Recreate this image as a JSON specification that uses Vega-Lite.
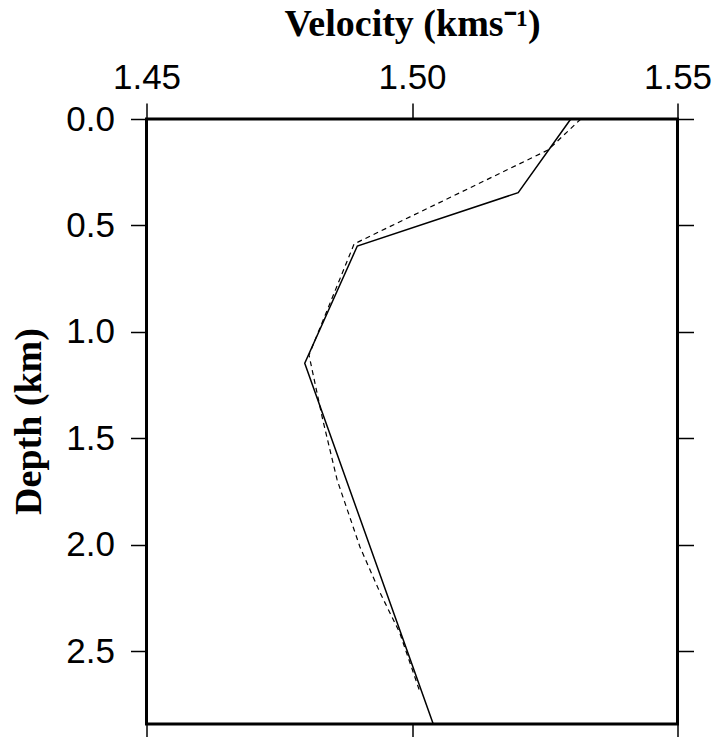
{
  "$schema": "https://vega.github.io/schema/vega-lite/v6.json",
  "autosize": "none",
  "width": 531,
  "height": 605,
  "padding": {"left": 146.5, "top": 119, "right": 40.5, "bottom": 13},
  "background": "white",
  "datasets": {
    "solid": [
      {"velocity": 1.5299, "depth": 0.0},
      {"velocity": 1.5200, "depth": 0.346},
      {"velocity": 1.4897, "depth": 0.597},
      {"velocity": 1.4798, "depth": 1.148},
      {"velocity": 1.5040, "depth": 2.843}
    ],
    "dashed": [
      {"velocity": 1.5318, "depth": 0.0},
      {"velocity": 1.5256, "depth": 0.146},
      {"velocity": 1.4891, "depth": 0.587},
      {"velocity": 1.4806, "depth": 1.109},
      {"velocity": 1.4832, "depth": 1.414},
      {"velocity": 1.4859, "depth": 1.696},
      {"velocity": 1.4902, "depth": 2.011},
      {"velocity": 1.4940, "depth": 2.227},
      {"velocity": 1.4977, "depth": 2.415},
      {"velocity": 1.5015, "depth": 2.693}
    ]
  },
  "layer": [
    {
      "data": {"name": "solid"},
      "mark": {"type": "line", "color": "black", "strokeWidth": 1.5},
      "encoding": {
        "x": {
          "field": "velocity", "type": "quantitative",
          "scale": {"domain": [1.45, 1.55], "nice": false, "zero": false},
          "axis": {
            "orient": "top", "values": [1.45, 1.5, 1.55], "format": ".2f",
            "title": "Velocity (kms⁻¹)",
            "titleFont": "Liberation Serif", "titleFontWeight": "bold", "titleFontSize": 38,
            "titleColor": "black", "titleBaseline": "alphabetic", "titleY": -84,
            "labelFont": "Liberation Sans", "labelFontSize": 35, "labelColor": "black",
            "labelPadding": 8, "labelFlush": false, "labelOverlap": false,
            "tickSize": 16, "tickWidth": 1.5, "tickColor": "black",
            "domain": false, "grid": false
          }
        },
        "y": {
          "field": "depth", "type": "quantitative",
          "scale": {"domain": [0, 2.843], "nice": false, "reverse": true},
          "axis": {
            "orient": "left", "values": [0, 0.5, 1.0, 1.5, 2.0, 2.5], "format": ".1f",
            "title": "Depth (km)",
            "titleFont": "Liberation Serif", "titleFontWeight": "bold", "titleFontSize": 38,
            "titleColor": "black", "titleAngle": -90, "titleBaseline": "alphabetic",
            "titleX": -106.5, "titleY": 302,
            "labelFont": "Liberation Sans", "labelFontSize": 35, "labelColor": "black",
            "labelPadding": 16, "labelFlush": false, "labelOverlap": false,
            "tickSize": 16, "tickWidth": 1.5, "tickColor": "black",
            "domain": false, "grid": false
          }
        },
        "order": {"field": "depth", "type": "quantitative"}
      }
    },
    {
      "data": {"name": "dashed"},
      "mark": {"type": "line", "color": "black", "strokeWidth": 1.2, "strokeDash": [5, 4]},
      "encoding": {
        "x": {
          "field": "velocity", "type": "quantitative",
          "axis": {
            "orient": "bottom", "values": [1.45, 1.5, 1.55], "labels": false, "title": null,
            "tickSize": 16, "tickWidth": 1.5, "tickColor": "black",
            "domain": false, "grid": false
          }
        },
        "y": {
          "field": "depth", "type": "quantitative",
          "axis": {
            "orient": "right", "values": [0, 0.5, 1.0, 1.5, 2.0, 2.5], "labels": false, "title": null,
            "tickSize": 16, "tickWidth": 1.5, "tickColor": "black",
            "domain": false, "grid": false
          }
        },
        "order": {"field": "depth", "type": "quantitative"}
      }
    }
  ],
  "resolve": {"axis": {"x": "independent", "y": "independent"}},
  "config": {
    "view": {"stroke": "black", "strokeWidth": 3}
  }
}
